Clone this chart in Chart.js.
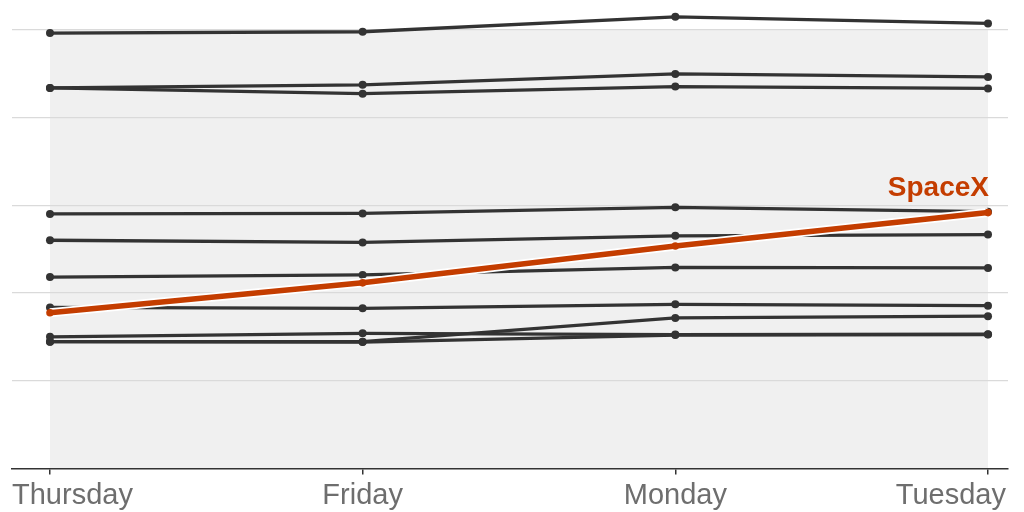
<!DOCTYPE html>
<html>
<head>
<meta charset="utf-8">
<script src="https://cdn.jsdelivr.net/npm/chart.js@4"></script>
<style>
  html, body { margin: 0; padding: 0; background: #fff; }
  #wrap { width: 1024px; height: 512px; }
</style>
</head>
<body>
<div id="wrap"><canvas id="chart"></canvas></div>
<script>
// Day labels along the x axis
const days = ["Thursday", "Friday", "Monday", "Tuesday"]

// Gridline values (one line every 20 units)
const gridValues = [20, 40, 60, 80, 100]

// Highlighted series
const spacexLabel = "SpaceX"
const spacex = [35.5, 42.3, 50.7, 58.3]

// The other companies, drawn in dark gray
const company1 = [99.2, 99.5, 102.9, 101.4]
const company2 = [86.7, 87.4, 89.9, 89.2]
const company3 = [86.7, 85.4, 87.0, 86.6]
const company4 = [58.0, 58.1, 59.5, 58.5]
const company5 = [52.0, 51.5, 53.0, 53.3]
const company6 = [43.6, 44.1, 45.8, 45.7]
const company7 = [36.7, 36.5, 37.4, 37.1]
const company8 = [30.0, 30.8, 30.5, 30.6]
const company9 = [28.9, 28.9, 34.3, 34.7]
const company10 = [28.9, 28.8, 30.4, 30.5]

const others = [company1, company2, company3, company4, company5,
  company6, company7, company8, company9, company10]

const orange = "#c43d00"
const dark = "#333333"

const toPoints = (arr) => arr.map((v, i) => ({ x: i, y: v }))

// Gray panel behind the lines, from first to last day
const panelPlugin = {
  id: "panel",
  beforeDraw(chart) {
    const { ctx, scales } = chart
    const x0 = scales.x.getPixelForValue(0)
    const x1 = scales.x.getPixelForValue(days.length - 1)
    const y0 = scales.y.getPixelForValue(100)
    const y1 = scales.y.getPixelForValue(0)
    ctx.save()
    ctx.fillStyle = "#f0f0f0"
    ctx.fillRect(x0, y0, x1 - x0, y1 - y0)
    ctx.restore()
  },
}

// Day labels (first flush left, last flush right) and the SpaceX tag
const labelPlugin = {
  id: "labels",
  afterDraw(chart) {
    const { ctx, scales, chartArea } = chart
    ctx.save()
    ctx.font = "29px 'Liberation Sans', Arial, sans-serif"
    ctx.fillStyle = "#6e6e6e"
    ctx.textBaseline = "alphabetic"
    days.forEach((d, i) => {
      let x = scales.x.getPixelForValue(i)
      if (i === 0) {
        ctx.textAlign = "left"
        x = chartArea.left
      } else if (i === days.length - 1) {
        ctx.textAlign = "right"
        x = chartArea.right - 2
      } else {
        ctx.textAlign = "center"
      }
      ctx.fillText(d, x, 504)
    })

    const last = spacex.length - 1
    ctx.font = "bold 28px 'Liberation Sans', Arial, sans-serif"
    ctx.fillStyle = orange
    ctx.textAlign = "right"
    ctx.fillText(spacexLabel, scales.x.getPixelForValue(last) + 1,
      scales.y.getPixelForValue(spacex[last]) - 17)
    ctx.restore()
  },
}

const datasets = [
  {
    label: spacexLabel,
    data: toPoints(spacex),
    borderColor: orange,
    backgroundColor: orange,
    borderWidth: 5.5,
    pointRadius: 3.8,
    pointBorderWidth: 0,
  },
  {
    label: "outline",
    data: toPoints(spacex),
    borderColor: "#ffffff",
    borderWidth: 9,
    pointRadius: 0,
  },
  ...others.map((arr, i) => ({
    label: "company" + (i + 1),
    data: toPoints(arr),
    borderColor: dark,
    backgroundColor: dark,
    borderWidth: 3.3,
    pointRadius: 4,
    pointBorderWidth: 0,
  })),
]

new Chart(document.getElementById("chart"), {
  type: "line",
  data: { datasets },
  options: {
    responsive: true,
    maintainAspectRatio: false,
    animation: false,
    events: [],
    layout: {
      padding: { top: 12, left: 12, right: 16, bottom: 0 },
    },
    plugins: {
      legend: { display: false },
      tooltip: { enabled: false },
      title: { display: false },
    },
    scales: {
      x: {
        type: "linear",
        min: -0.1215,
        max: 3.064,
        afterBuildTicks: (scale) => {
          scale.ticks = days.map((d, i) => ({ value: i }))
        },
        afterFit: (scale) => {
          scale.height = 43.5
        },
        ticks: { display: false },
        grid: {
          drawOnChartArea: false,
          drawTicks: true,
          tickLength: 6,
          color: dark,
          lineWidth: 1.5,
        },
        border: { display: true, color: dark, width: 1.5 },
      },
      y: {
        min: 0,
        max: 104,
        afterBuildTicks: (scale) => {
          scale.ticks = gridValues.map((v) => ({ value: v }))
        },
        afterFit: (scale) => {
          scale.width = 0
        },
        ticks: { display: false },
        grid: {
          color: "#dadada",
          lineWidth: 1.2,
          drawTicks: false,
        },
        border: { display: false },
      },
    },
  },
  plugins: [panelPlugin, labelPlugin],
})
</script>
</body>
</html>
